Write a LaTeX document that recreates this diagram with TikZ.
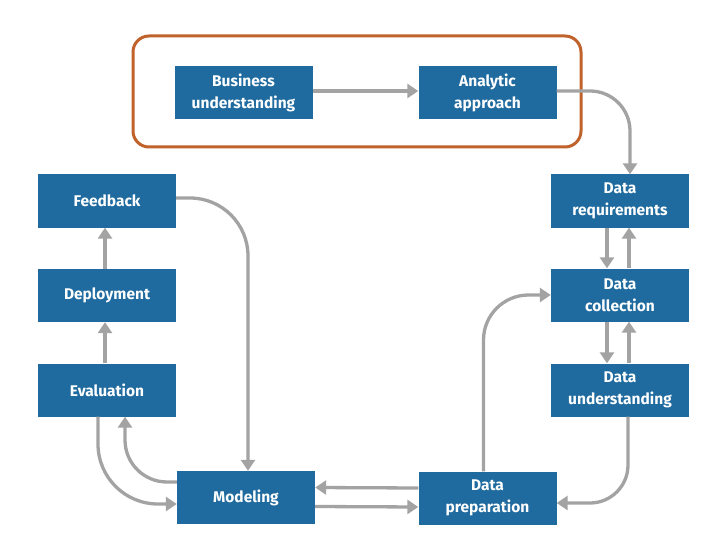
\documentclass[tikz,border=0pt]{standalone}
\usepackage{fontspec}
\setmainfont{Fira Sans}
\usetikzlibrary{arrows.meta}
\definecolor{boxblue}{HTML}{1F6A9E}
\definecolor{arrgray}{HTML}{A3A3A3}
\definecolor{framecol}{HTML}{C0622B}
\tikzset{
  stepbox/.style={fill=boxblue, text=white, minimum width=138pt, minimum height=53pt,
    inner sep=0pt, align=center, font=\fontsize{15.5}{22}\selectfont\bfseries},
  conn/.style={draw=arrgray, line width=3.3pt, -{Triangle[width=14pt,length=11pt]}},
  frame/.style={draw=framecol, line width=3pt, rounded corners=16pt}
}
\begin{document}
\begin{tikzpicture}[x=1pt,y=-1pt]
\useasboundingbox[fill=white] (0,0) rectangle (726,559);
\draw[frame] (133,36) rectangle (581,147);
\node[stepbox] (bus) at (243.5,93) {Business\\understanding};
\node[stepbox] (ana) at (487.5,93) {Analytic\\approach};
\node[stepbox] (req) at (620,201) {Data\\requirements};
\node[stepbox] (col) at (620,295) {Data\\collection};
\node[stepbox] (und) at (620,390) {Data\\understanding};
\node[stepbox] (prep) at (487.5,498) {Data\\preparation};
\node[stepbox] (mod) at (246,497.5) {Modeling};
\node[stepbox] (ev) at (107,390) {Evaluation};
\node[stepbox] (dep) at (107,295.5) {Deployment};
\node[stepbox] (fb) at (107,201) {Feedback};

\draw[conn] ([yshift=2pt]bus.east) -- ([yshift=2pt]ana.west);
\draw[conn, rounded corners=40pt] ([yshift=2pt]ana.east) -| ([xshift=10pt]req.north);
\draw[conn] ([xshift=-13pt]req.south) -- ([xshift=-13pt]col.north);
\draw[conn] ([xshift=9pt]col.north) -- ([xshift=9pt]req.south);
\draw[conn] ([xshift=-13pt]col.south) -- ([xshift=-13pt]und.north);
\draw[conn] ([xshift=9pt]und.north) -- ([xshift=9pt]col.south);
\draw[conn, rounded corners=38pt] ([xshift=8pt]und.south) |- ([yshift=-5pt]prep.east);
\draw[conn, rounded corners=45pt] ([xshift=-4pt]prep.north) |- (col.west);
\draw[conn] ([yshift=10pt]prep.west) -- ([yshift=10pt]mod.east);
\draw[conn] ([yshift=-9pt]mod.east) -- ([yshift=-9pt]prep.west);
\draw[conn, rounded corners=58pt] ([yshift=3pt]fb.east) -| ([xshift=2pt]mod.north);
\draw[conn, rounded corners=60pt] ([xshift=-9pt]ev.south) |- ([yshift=-6.5pt]mod.west);
\draw[conn, rounded corners=42pt] ([yshift=15.5pt]mod.west) -| ([xshift=18pt]ev.south);
\draw[conn] ([xshift=-2pt]ev.north) -- ([xshift=-2pt]dep.south);
\draw[conn] ([xshift=-2pt]dep.north) -- ([xshift=-2pt]fb.south);
\end{tikzpicture}
\end{document}
